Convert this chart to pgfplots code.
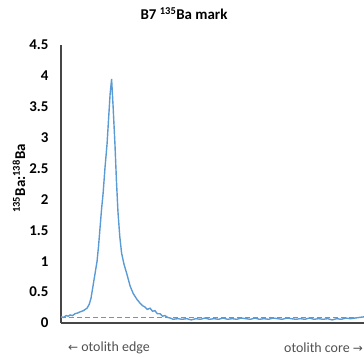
\documentclass[border=0pt]{standalone}
\usepackage{pgfplots}
\pgfplotsset{compat=1.18}
\usepackage{fontspec}
\setmainfont{Carlito}
\newfontfamily\arrowfont{DejaVu Sans}
\definecolor{xlblue}{RGB}{91,155,213}
\definecolor{axgray}{RGB}{70,70,70}
\definecolor{txgray}{RGB}{80,80,80}
\begin{document}
\begin{tikzpicture}
\begin{axis}[
  scale only axis,
  width=303bp, height=278bp,
  xmin=0, xmax=100, ymin=0, ymax=4.5,
  axis x line*=bottom, axis y line*=left,
  axis line style={draw=axgray, line width=1.3pt, -},
  xtick=\empty,
  ytick={0,0.5,1,1.5,2,2.5,3,3.5,4,4.5},
  yticklabels={0,0.5,1,1.5,2,2.5,3,3.5,4,4.5},
  ytick style={draw=none},
  yticklabel style={font=\bfseries\fontsize{15}{15}\selectfont, text=black, xshift=-9bp},
  /pgf/number format/assume math mode=true,
  title={\bfseries B7 \textsuperscript{135}Ba mark},
  title style={font=\fontsize{15}{15}\selectfont, at={(rel axis cs:0.406,1)}, anchor=south, yshift=16bp},
  clip=false,
]
\addplot[xlblue, line width=1.2pt, dash pattern=on 5bp off 3bp] coordinates {(0,0.085) (100,0.085)};
\addplot[xlblue, line width=1.4pt] coordinates {
(0,0.10) (0.8,0.09) (1.7,0.12) (2.4,0.11) (3.0,0.13) (3.8,0.12) (4.6,0.15) (5.4,0.16) (6.3,0.18) (7.4,0.20) (8.6,0.24)
(9.3,0.30) (9.9,0.40) (10.4,0.55) (10.9,0.70) (11.4,0.85) (11.9,1.00) (12.4,1.25) (12.9,1.55) (13.4,1.85) (13.9,2.10)
(14.5,2.50) (15.2,2.90) (15.7,3.30) (16.2,3.70) (16.7,3.95) (17.2,3.50) (17.8,2.90) (18.3,2.30) (18.8,1.80)
(19.4,1.40) (20.0,1.13) (20.8,0.95) (21.7,0.80) (22.8,0.60) (23.8,0.48) (25.1,0.38) (26.1,0.32) (26.9,0.28)
(27.7,0.26) (28.5,0.22) (29.4,0.24) (30.2,0.19) (31.0,0.20) (31.8,0.15) (32.7,0.15) (33.5,0.11) (34.3,0.12)
(35.2,0.09) (36.1,0.08) (37.0,0.06) (38.5,0.07) (40,0.06) (41.5,0.07) (43,0.05) (44.5,0.07) (46,0.06)
(47.5,0.08) (49,0.06) (50.5,0.07) (52,0.06) (53.5,0.08) (55,0.06) (56.5,0.07) (58,0.06) (59.5,0.08)
(61,0.07) (62.5,0.06) (64,0.08) (65.5,0.06) (67,0.07) (68.5,0.06) (70,0.08) (71.5,0.07) (73,0.06)
(74.5,0.08) (76,0.07) (77.5,0.06) (79,0.07) (80.5,0.06) (82,0.08) (83.5,0.06) (85,0.07) (86.5,0.06)
(88,0.07) (89.5,0.05) (91,0.07) (92.5,0.06) (94,0.08) (95.5,0.07) (97,0.08) (98.5,0.09) (100,0.10)
};
\node[rotate=90, anchor=center, font=\bfseries\fontsize{15}{15}\selectfont, inner sep=0pt] at (rel axis cs:-0.139,0.52) {\textsuperscript{135}Ba:\textsuperscript{138}Ba};
\node[anchor=west, text=txgray, font=\fontsize{14}{14}\selectfont, inner sep=0pt] at (rel axis cs:0.023,-0.09) {{\arrowfont\fontsize{12}{12}\selectfont ←} otolith edge};
\node[anchor=east, text=txgray, font=\fontsize{14}{14}\selectfont, inner sep=0pt] at (rel axis cs:0.997,-0.09) {otolith core {\arrowfont\fontsize{12}{12}\selectfont →}};
\end{axis}
\pgfresetboundingbox
\path (current axis.south west) ++(-61bp,-35bp) rectangle ++(364bp,358bp);
\end{tikzpicture}
\end{document}
